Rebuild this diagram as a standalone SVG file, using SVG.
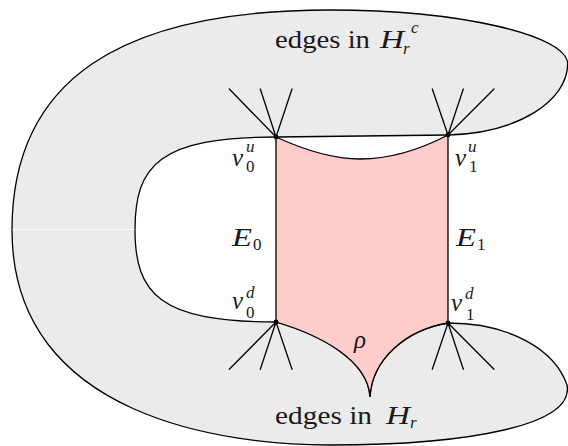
<svg xmlns="http://www.w3.org/2000/svg" width="568" height="446" viewBox="0 0 568 446">
<style>
.ln{stroke:#000;stroke-width:1.3;fill:none;stroke-linecap:round;stroke-linejoin:round}
text{font-family:'Liberation Serif','Times New Roman',serif;fill:#1a1a1a}
.t{font-size:25px}
.m{font-size:25px;font-style:italic}
.ms{font-size:17px;font-style:italic}
.s{font-size:17px}
.dot{fill:#000}
</style>
<rect width="568" height="446" fill="#fff"/>
<g id="region">
<path id="gray" d="M448,135 L276,137 C160,137 135,165 135,229.5 C135,294 160,322 276,322 C320,335 368,360 370,397 C372,360 405,330 448,323 C510,323 555,350 567,385 C575,425 470,445 330,445 C230,445 12,420 12,230 C12,80 120,10 330,10 C460,10 565,35 567.7,63 C568,100 520,133 448,135 Z" fill="#ebebeb" stroke="#000" stroke-width="1.3"/>
<path id="rho" d="M276,137 L276,322 C320,335 368,360 370,397 C372,360 405,330 448,323 L448,135 C425,147 395,159 360,159 C330,159 300,148 276,137 Z" fill="#ffcccc" stroke="#000" stroke-width="1.3"/>
<line x1="12.5" y1="229.5" x2="134.5" y2="229.5" stroke="#fff" stroke-width="0.8"/>
</g>
<g id="connectors">
<path class="ln" d="M276,137 L229.3,89 M276,137 L260.3,89 M276,137 L292,89"/>
<path class="ln" d="M448,135 L432.3,89 M448,135 L463.3,89 M448,135 L494,89"/>
<path class="ln" d="M276,322 L229.3,369.3 M276,322 L260.3,369.3 M276,322 L292,369.3"/>
<path class="ln" d="M448,323 L432.3,369.3 M448,323 L463.3,369.3 M448,323 L494,369.3"/>
</g>
<g id="v0u"><circle class="dot" cx="276" cy="137" r="2.4"/>
<text class="m" x="232" y="165.5">v</text><text class="ms" x="246" y="152">u</text><text class="s" x="246" y="171.5">0</text></g>
<g id="v1u"><circle class="dot" cx="448" cy="135" r="2.4"/>
<text class="m" x="455" y="165.5">v</text><text class="ms" x="468" y="152">u</text><text class="s" x="469" y="171.5">1</text></g>
<g id="v0d"><circle class="dot" cx="276" cy="322" r="2.4"/>
<text class="m" x="232" y="309">v</text><text class="ms" x="246" y="297.5">d</text><text class="s" x="246" y="318">0</text></g>
<g id="v1d"><circle class="dot" cx="448" cy="323" r="2.4"/>
<text class="m" x="451" y="310.5">v</text><text class="ms" x="465" y="298.5">d</text><text class="s" x="466" y="320">1</text></g>
<g id="E0"><text class="m" x="232" y="246" textLength="20" lengthAdjust="spacingAndGlyphs">E</text><text class="s" x="253" y="249.5">0</text></g>
<g id="E1"><text class="m" x="456" y="246" textLength="20" lengthAdjust="spacingAndGlyphs">E</text><text class="s" x="477" y="249.5">1</text></g>
<g id="rho-label"><text class="m" x="354" y="348">ρ</text></g>
<g id="top-label"><text class="t" x="275" y="47.5" textLength="95" lengthAdjust="spacingAndGlyphs">edges in</text><text class="m" x="380" y="47.5" textLength="24" lengthAdjust="spacingAndGlyphs">H</text><text class="ms" x="411" y="33">c</text><text class="ms" x="403" y="53.5">r</text></g>
<g id="bottom-label"><text class="t" x="275" y="423.5" textLength="97" lengthAdjust="spacingAndGlyphs">edges in</text><text class="m" x="386" y="423.5" textLength="24" lengthAdjust="spacingAndGlyphs">H</text><text class="ms" x="410" y="428">r</text></g>
</svg>
